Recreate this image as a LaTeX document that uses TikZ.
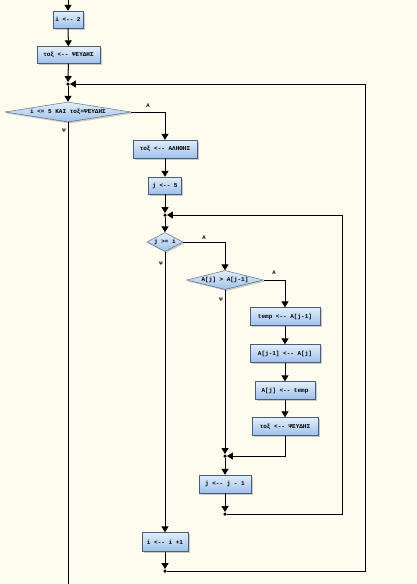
\documentclass[tikz,border=0pt]{standalone}
\usepackage{fontspec}
\setmonofont{Liberation Mono}
\usetikzlibrary{positioning, arrows.meta, shapes.geometric, shadows}

\definecolor{paper}{HTML}{FEFBEF}
\definecolor{boxline}{HTML}{4B5D78}
\definecolor{boxtop}{HTML}{E2EEFC}
\definecolor{boxbot}{HTML}{9EC0EA}

\begin{document}
\begin{tikzpicture}[
    x=1pt, y=-1pt,
    every node/.style = {font=\ttfamily\bfseries\fontsize{6}{7}\selectfont},
    step_box/.style = {draw=boxline, rectangle, inner sep=0pt, top color=boxtop, bottom color=boxbot,
        drop shadow={shadow xshift=1.5pt, shadow yshift=-1.5pt, fill=black!40, opacity=.5}},
    cond_dia/.style = {step_box, diamond, inner sep=0pt},
    junc_dot/.style = {circle, fill=black, inner sep=0pt, minimum size=3.5pt},
    flow_arrow/.style = {-{Triangle[width=7pt,length=6pt]}, line width=1pt, black},
    flow_line/.style = {line width=1pt, black},
    branch_lbl/.style = {font=\ttfamily\bfseries\fontsize{5.5}{6}\selectfont, inner sep=0pt}
]

% --- Nền ---
\fill[paper] (0,0) rectangle (417,584);
\useasboundingbox (0,0) rectangle (417,584);

% --- Vòng ngoài ---
\coordinate (start) at (68,0);
\node[step_box, minimum width=30pt, minimum height=17pt] (i_init) at (68,19.5) {i <-- 2};
\node[step_box, minimum width=63pt, minimum height=17pt] (flag_init) at (68.5,55) {τοξ <-- ΨΕΥΔΗΣ};
\node[junc_dot] (j1) at (68,84) {};
\node[cond_dia, shape aspect=6, minimum width=126pt, minimum height=20pt] (d1) at (68,112) {i <= 5 ΚΑΙ τοξ=ΨΕΥΔΗΣ};
\node[branch_lbl] (d1_yes) at (148,106) {Α};
\node[branch_lbl] (d1_no) at (64,131) {Ψ};
\coordinate (exit_main) at (68,584);

\node[step_box, minimum width=64pt, minimum height=18pt] (flag_true) at (165,149) {τοξ <-- ΑΛΗΘΗΣ};
\node[step_box, minimum width=33pt, minimum height=17pt] (j_init) at (165,185.5) {j <-- 5};
\node[junc_dot] (j2) at (165,215) {};

% --- Vòng trong ---
\node[cond_dia, shape aspect=2, minimum width=36pt, minimum height=19pt] (d2) at (165,242) {j >= i};
\node[branch_lbl] (d2_yes) at (204,238) {Α};
\node[branch_lbl] (d2_no) at (161,264) {Ψ};

\node[cond_dia, shape aspect=4, minimum width=77pt, minimum height=19pt] (d3) at (225,280) {A[j] > A[j-1]};
\node[branch_lbl] (d3_yes) at (274,273) {Α};
\node[branch_lbl] (d3_no) at (221,300) {Ψ};

\node[step_box, minimum width=70pt, minimum height=18pt] (swap1) at (285,316.5) {temp <-- A[j-1]};
\node[step_box, minimum width=70pt, minimum height=18pt] (swap2) at (285,353.5) {A[j-1] <-- A[j]};
\node[step_box, minimum width=60pt, minimum height=18pt] (swap3) at (285,390.5) {A[j] <-- temp};
\node[step_box, minimum width=66pt, minimum height=18pt] (flag_false) at (285,426.5) {τοξ <-- ΨΕΥΔΗΣ};

\node[junc_dot] (j3) at (225,456) {};
\node[step_box, minimum width=52pt, minimum height=18pt] (j_dec) at (225,484) {j <-- j - 1};
\node[junc_dot] (j4) at (225,514) {};
\coordinate (loop_in) at (342,514);

\node[step_box, minimum width=46pt, minimum height=19pt] (i_inc) at (165,542) {i <-- i +1};
\node[junc_dot] (j5) at (165,571) {};
\coordinate (loop_out) at (365,571);

% --- Mũi tên ---
\draw[flow_arrow] (start) -- (i_init);
\draw[flow_arrow] (i_init) -- (flag_init);
\draw[flow_arrow] (flag_init) -- (j1);
\draw[flow_arrow] (j1) -- (d1);
\draw[flow_line] (d1) -- (exit_main);
\draw[flow_arrow] (d1.east) -| (flag_true);
\draw[flow_arrow] (flag_true) -- (j_init);
\draw[flow_arrow] (j_init) -- (j2);
\draw[flow_arrow] (j2) -- (d2);
\draw[flow_arrow] (d2.east) -| (d3);
\draw[flow_arrow] (d3.east) -| (swap1);
\draw[flow_arrow] (swap1) -- (swap2);
\draw[flow_arrow] (swap2) -- (swap3);
\draw[flow_arrow] (swap3) -- (flag_false);
\draw[flow_arrow] (flag_false.south) |- (j3);
\draw[flow_arrow] (d3) -- (j3);
\draw[flow_arrow] (j3) -- (j_dec);
\draw[flow_arrow] (j_dec) -- (j4);
\draw[flow_arrow] (j4) -- (loop_in) |- (j2);
\draw[flow_arrow] (d2) -- (i_inc);
\draw[flow_arrow] (i_inc) -- (j5);
\draw[flow_arrow] (j5) -- (loop_out) |- (j1);

\end{tikzpicture}
\end{document}
